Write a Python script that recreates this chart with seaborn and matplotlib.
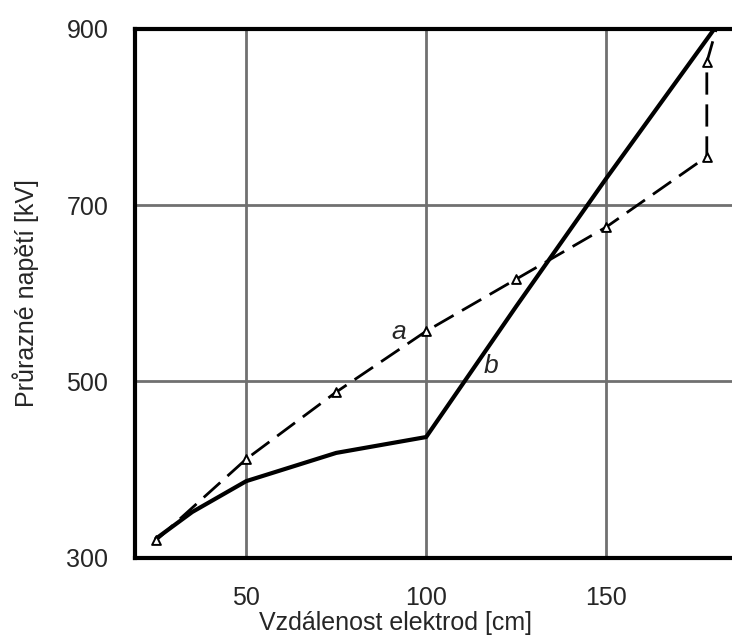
import matplotlib
matplotlib.use("Agg")
import matplotlib.pyplot as plt
import seaborn as sns
import pandas as pd

# Data
a_x = [25, 50, 75, 100, 125, 150, 178, 178, 181]
a_y = [320, 412, 488, 557, 616, 675, 755, 862, 905]
a_marked = [True, True, True, True, True, True, True, True, False]

b_x = [25, 35, 50, 75, 100, 125, 150, 181]
b_y = [322, 352, 387, 419, 437, 585, 730, 905]

x_ticks = [50, 100, 150]
y_ticks = [300, 500, 700, 900]
x_label = "Vzdálenost elektrod [cm]"
y_label = "Průrazné napětí [kV]"

sns.set_style("white")
plt.rcParams["font.family"] = ["Liberation Sans", "DejaVu Sans"]

fig = plt.figure(figsize=(7.32, 6.39), dpi=100)
ax = fig.add_axes([0.184, 0.127, 0.816, 0.828])

df_a = pd.DataFrame({"x": a_x, "y": a_y})
df_b = pd.DataFrame({"x": b_x, "y": b_y})

sns.lineplot(data=df_b, x="x", y="y", sort=False, estimator=None, ax=ax,
             color="black", linewidth=3.0, zorder=3)
sns.lineplot(data=df_a, x="x", y="y", sort=False, estimator=None, ax=ax,
             color="black", linewidth=2.0, dashes=False, zorder=3)
ax.lines[-1].set_dashes([8, 3.5])
df_am = df_a[a_marked]
sns.scatterplot(data=df_am, x="x", y="y", ax=ax, marker="^", s=40,
                facecolor="white", edgecolor="black", linewidth=1.4, zorder=4)

ax.set_xlim(19, 185)
ax.set_ylim(300, 900)
ax.set_xticks(x_ticks)
ax.set_yticks(y_ticks)
ax.grid(True, color="#707070", linewidth=2.0)
ax.set_axisbelow(True)
for side in ["left", "bottom", "top"]:
    ax.spines[side].set_color("black")
    ax.spines[side].set_linewidth(3)
ax.spines["right"].set_visible(False)
ax.tick_params(axis="x", length=0, labelsize=18, pad=20)
ax.tick_params(axis="y", length=0, labelsize=18, pad=19)
ax.set_xlabel(x_label, fontsize=18)
ax.set_ylabel(y_label, fontsize=18)
ax.xaxis.set_label_coords(0.436, -0.1)
ax.yaxis.set_label_coords(-0.16, 0.5)

ax.text(92.5, 556, "a", fontsize=19, fontstyle="italic", ha="center", va="center")
ax.text(118, 518, "b", fontsize=19, fontstyle="italic", ha="center", va="center")

fig.savefig("out.png", dpi=100)
